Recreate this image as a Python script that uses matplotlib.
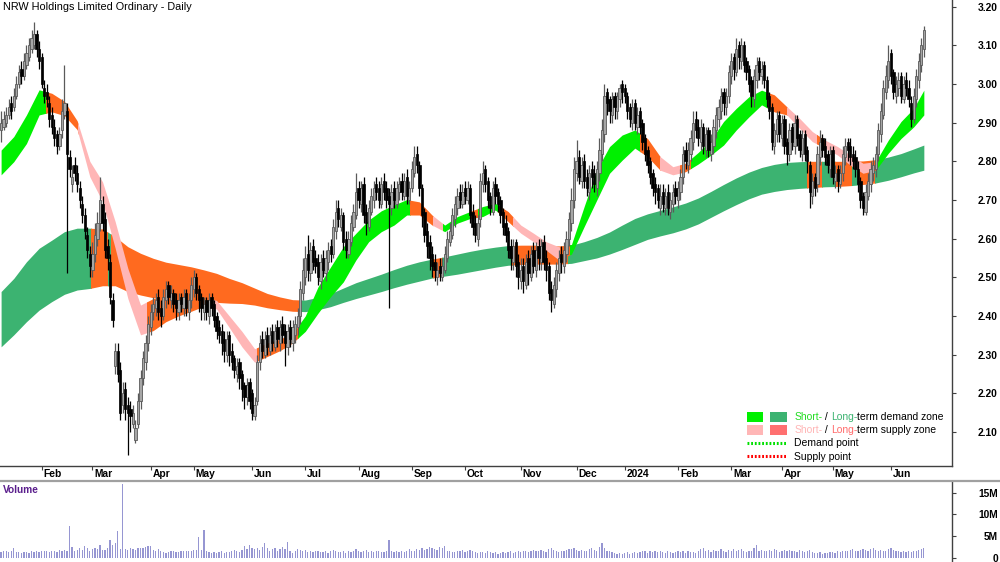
import numpy as np
import pandas as pd
import matplotlib
matplotlib.use("Agg")
import matplotlib.pyplot as plt
from matplotlib.patches import Rectangle
from matplotlib.lines import Line2D

plt.rcParams['font.family'] = ['Liberation Sans', 'DejaVu Sans']

TITLE = "NRW Holdings Limited Ordinary - Daily"

open_ = [
 2.88,2.89,2.90,2.92,2.95,2.94,2.97,3.00,3.04,3.02,
 3.05,3.07,3.09,3.10,3.13,3.09,3.07,2.99,2.98,2.95,
 2.92,2.89,2.87,2.84,2.88,2.92,2.93,2.81,2.74,2.79,
 2.77,2.73,2.69,2.66,2.61,2.56,2.52,2.56,2.60,2.64,
 2.69,2.65,2.58,2.54,2.44,2.27,2.31,2.26,2.17,2.21,
 2.17,2.16,2.12,2.08,2.12,2.18,2.24,2.28,2.33,2.37,
 2.41,2.42,2.45,2.42,2.40,2.44,2.48,2.44,2.46,2.44,
 2.41,2.45,2.42,2.46,2.41,2.44,2.47,2.50,2.47,2.45,
 2.41,2.44,2.40,2.45,2.43,2.40,2.37,2.36,2.34,2.30,
 2.35,2.31,2.29,2.25,2.28,2.25,2.22,2.19,2.23,2.20,
 2.14,2.18,2.28,2.34,2.30,2.35,2.31,2.36,2.32,2.37,
 2.33,2.38,2.36,2.32,2.37,2.33,2.35,2.37,2.40,2.46,
 2.50,2.56,2.51,2.58,2.55,2.54,2.49,2.55,2.51,2.54,
 2.58,2.56,2.62,2.68,2.63,2.66,2.60,2.56,2.59,2.63,
 2.66,2.73,2.69,2.74,2.67,2.63,2.67,2.70,2.74,2.73,
 2.69,2.75,2.73,2.71,2.68,2.73,2.69,2.72,2.75,2.71,
 2.76,2.70,2.73,2.77,2.82,2.79,2.73,2.67,2.62,2.59,
 2.56,2.54,2.50,2.53,2.50,2.52,2.55,2.59,2.61,2.65,
 2.68,2.72,2.69,2.73,2.70,2.73,2.67,2.64,2.60,2.65,
 2.74,2.78,2.75,2.71,2.67,2.74,2.72,2.70,2.67,2.64,
 2.62,2.58,2.54,2.59,2.54,2.49,2.53,2.48,2.55,2.50,
 2.57,2.52,2.58,2.54,2.59,2.55,2.53,2.47,2.43,2.47,
 2.51,2.56,2.53,2.56,2.60,2.64,2.70,2.77,2.81,2.75,
 2.80,2.76,2.72,2.78,2.77,2.73,2.77,2.82,2.87,2.98,
 2.96,2.92,2.97,2.93,2.96,3.00,2.99,2.97,2.94,2.90,
 2.95,2.89,2.93,2.90,2.86,2.83,2.80,2.77,2.74,2.73,
 2.68,2.72,2.68,2.72,2.67,2.69,2.73,2.70,2.72,2.76,
 2.83,2.79,2.82,2.85,2.91,2.89,2.85,2.89,2.83,2.88,
 2.82,2.84,2.88,2.91,2.93,2.98,2.94,2.97,3.02,3.07,
 3.03,3.10,3.06,3.10,3.06,3.04,3.01,2.96,3.01,3.06,
 3.02,3.05,3.01,2.97,2.94,2.84,2.87,2.92,2.86,2.91,
 2.85,2.82,2.89,2.84,2.91,2.87,2.82,2.87,2.83,2.79,
 2.71,2.76,2.74,2.81,2.86,2.84,2.82,2.78,2.83,2.75,
 2.78,2.74,2.77,2.81,2.85,2.84,2.82,2.81,2.78,2.75,
 2.71,2.67,2.71,2.74,2.77,2.78,2.82,2.87,2.92,2.98,
 3.01,3.08,3.03,2.97,2.99,3.02,2.96,3.01,2.99,2.95,
 2.91,2.96,3.01,3.05,3.09]

high = [
 2.93,2.93,2.94,2.96,2.97,2.99,3.02,3.05,3.06,3.08,
 3.10,3.12,3.14,3.16,3.14,3.11,3.08,3.01,3.00,2.97,
 2.94,2.91,2.88,2.89,2.96,3.05,2.95,2.83,2.79,2.81,
 2.79,2.75,2.71,2.68,2.63,2.58,2.59,2.64,2.67,2.76,
 2.71,2.67,2.60,2.56,2.46,2.33,2.33,2.28,2.23,2.23,
 2.19,2.18,2.17,2.13,2.20,2.26,2.31,2.35,2.40,2.43,
 2.45,2.46,2.47,2.44,2.47,2.49,2.49,2.48,2.47,2.46,
 2.46,2.46,2.47,2.47,2.46,2.50,2.52,2.51,2.48,2.46,
 2.45,2.45,2.46,2.46,2.44,2.41,2.39,2.38,2.36,2.36,
 2.36,2.33,2.30,2.29,2.29,2.26,2.23,2.24,2.24,2.21,
 2.19,2.30,2.35,2.36,2.36,2.37,2.37,2.38,2.38,2.39,
 2.39,2.40,2.38,2.38,2.39,2.39,2.40,2.42,2.49,2.55,
 2.58,2.61,2.59,2.60,2.57,2.56,2.56,2.57,2.57,2.59,
 2.60,2.65,2.70,2.70,2.68,2.67,2.62,2.62,2.66,2.69,
 2.77,2.75,2.75,2.76,2.69,2.70,2.73,2.75,2.76,2.75,
 2.76,2.77,2.75,2.73,2.74,2.75,2.75,2.76,2.77,2.77,
 2.78,2.75,2.80,2.84,2.84,2.80,2.74,2.68,2.64,2.61,
 2.58,2.56,2.54,2.55,2.55,2.58,2.62,2.64,2.68,2.71,
 2.73,2.74,2.74,2.75,2.75,2.74,2.69,2.66,2.66,2.77,
 2.80,2.79,2.76,2.72,2.75,2.76,2.73,2.71,2.68,2.66,
 2.63,2.60,2.60,2.60,2.56,2.55,2.55,2.56,2.57,2.58,
 2.59,2.59,2.60,2.60,2.61,2.57,2.54,2.49,2.50,2.54,
 2.57,2.58,2.59,2.62,2.67,2.73,2.81,2.855,2.83,2.81,
 2.82,2.78,2.79,2.80,2.79,2.80,2.86,2.91,3.00,2.99,
 2.97,2.98,2.98,2.98,3.00,3.01,3.00,2.98,2.95,2.96,
 2.96,2.94,2.94,2.91,2.87,2.84,2.81,2.78,2.76,2.74,
 2.74,2.74,2.73,2.74,2.72,2.74,2.75,2.75,2.78,2.84,
 2.85,2.85,2.88,2.93,2.93,2.91,2.91,2.90,2.89,2.89,
 2.87,2.91,2.94,2.96,2.99,2.99,2.99,3.05,3.08,3.08,
 3.12,3.11,3.12,3.11,3.07,3.05,3.02,3.04,3.07,3.07,
 3.06,3.06,3.02,2.98,2.95,2.90,2.93,2.93,2.92,2.92,
 2.86,2.90,2.90,2.92,2.92,2.88,2.88,2.88,2.84,2.80,
 2.77,2.77,2.84,2.88,2.87,2.86,2.83,2.84,2.84,2.79,
 2.79,2.79,2.84,2.86,2.86,2.86,2.84,2.83,2.80,2.76,
 2.72,2.74,2.77,2.80,2.81,2.84,2.90,2.95,3.01,3.05,
 3.10,3.09,3.04,3.02,3.03,3.03,3.02,3.03,3.01,2.97,
 2.99,3.04,3.08,3.12,3.15]

low = [
 2.85,2.88,2.89,2.91,2.91,2.93,2.96,2.99,3.00,3.01,
 3.04,3.06,3.08,3.09,3.07,3.04,2.99,2.95,2.94,2.89,
 2.87,2.84,2.82,2.83,2.86,2.91,2.51,2.76,2.72,2.75,
 2.72,2.68,2.64,2.60,2.55,2.50,2.50,2.54,2.58,2.62,
 2.62,2.55,2.52,2.43,2.37,2.25,2.23,2.13,2.15,2.13,
 2.04,2.10,2.11,2.07,2.11,2.16,2.22,2.26,2.31,2.35,
 2.39,2.40,2.39,2.37,2.39,2.42,2.43,2.42,2.41,2.39,
 2.39,2.41,2.40,2.40,2.39,2.42,2.45,2.44,2.41,2.39,
 2.39,2.39,2.38,2.40,2.37,2.34,2.33,2.30,2.28,2.28,
 2.27,2.26,2.24,2.23,2.21,2.18,2.16,2.17,2.16,2.13,
 2.13,2.17,2.26,2.29,2.29,2.30,2.30,2.31,2.31,2.32,
 2.31,2.33,2.27,2.30,2.32,2.31,2.33,2.35,2.38,2.44,
 2.48,2.49,2.49,2.52,2.51,2.48,2.47,2.50,2.49,2.52,
 2.54,2.55,2.60,2.63,2.62,2.57,2.55,2.55,2.58,2.62,
 2.65,2.68,2.67,2.64,2.61,2.62,2.66,2.68,2.70,2.68,
 2.68,2.70,2.68,2.42,2.66,2.68,2.68,2.70,2.70,2.70,
 2.69,2.69,2.72,2.76,2.77,2.71,2.63,2.59,2.55,2.52,
 2.50,2.49,2.48,2.49,2.49,2.51,2.54,2.58,2.60,2.63,
 2.66,2.68,2.68,2.69,2.69,2.64,2.61,2.59,2.58,2.63,
 2.72,2.72,2.68,2.66,2.66,2.69,2.67,2.64,2.61,2.59,
 2.55,2.52,2.52,2.50,2.47,2.47,2.46,2.47,2.48,2.49,
 2.51,2.50,2.52,2.52,2.52,2.49,2.44,2.41,2.42,2.45,
 2.49,2.51,2.51,2.54,2.58,2.62,2.68,2.75,2.74,2.73,
 2.73,2.71,2.70,2.73,2.72,2.71,2.75,2.80,2.85,2.92,
 2.90,2.90,2.91,2.91,2.94,2.95,2.95,2.91,2.89,2.88,
 2.88,2.87,2.87,2.83,2.80,2.77,2.74,2.71,2.69,2.68,
 2.66,2.67,2.66,2.66,2.65,2.67,2.69,2.68,2.70,2.74,
 2.78,2.77,2.80,2.83,2.86,2.84,2.83,2.82,2.81,2.81,
 2.80,2.82,2.86,2.89,2.91,2.92,2.92,2.95,3.00,3.01,
 3.02,3.04,3.04,3.03,3.01,2.98,2.94,2.94,2.99,3.01,
 3.00,2.99,2.94,2.91,2.83,2.82,2.85,2.85,2.84,2.82,
 2.79,2.80,2.83,2.82,2.84,2.81,2.80,2.80,2.77,2.68,
 2.69,2.71,2.72,2.79,2.81,2.79,2.77,2.76,2.74,2.73,
 2.72,2.73,2.75,2.79,2.80,2.79,2.78,2.76,2.72,2.68,
 2.66,2.66,2.70,2.72,2.75,2.76,2.80,2.85,2.91,2.96,
 2.99,3.00,2.96,2.95,2.97,2.95,2.95,2.97,2.94,2.89,
 2.90,2.94,2.99,3.03,3.07]

close = [
 2.90,2.91,2.92,2.94,2.93,2.97,3.00,3.03,3.02,3.06,
 3.08,3.10,3.12,3.13,3.09,3.06,3.00,2.97,2.96,2.91,
 2.89,2.86,2.84,2.87,2.93,2.95,2.82,2.78,2.76,2.77,
 2.74,2.70,2.66,2.62,2.57,2.53,2.56,2.61,2.64,2.70,
 2.64,2.57,2.55,2.45,2.39,2.31,2.25,2.15,2.20,2.16,
 2.15,2.14,2.15,2.11,2.18,2.24,2.29,2.33,2.38,2.41,
 2.43,2.44,2.41,2.40,2.45,2.47,2.45,2.46,2.43,2.42,
 2.44,2.43,2.45,2.42,2.44,2.48,2.50,2.46,2.44,2.42,
 2.43,2.41,2.44,2.42,2.39,2.36,2.35,2.33,2.31,2.34,
 2.30,2.28,2.26,2.27,2.24,2.21,2.19,2.22,2.18,2.15,
 2.17,2.28,2.33,2.31,2.34,2.32,2.35,2.33,2.36,2.34,
 2.37,2.35,2.33,2.36,2.34,2.37,2.38,2.40,2.47,2.52,
 2.55,2.52,2.57,2.54,2.53,2.50,2.54,2.52,2.55,2.57,
 2.56,2.63,2.67,2.65,2.66,2.59,2.57,2.60,2.64,2.67,
 2.72,2.70,2.73,2.66,2.64,2.68,2.71,2.73,2.72,2.70,
 2.74,2.72,2.70,2.69,2.72,2.70,2.73,2.74,2.72,2.75,
 2.71,2.73,2.78,2.81,2.79,2.73,2.66,2.61,2.58,2.55,
 2.53,2.52,2.52,2.51,2.53,2.56,2.60,2.62,2.66,2.69,
 2.71,2.70,2.72,2.71,2.73,2.66,2.63,2.61,2.64,2.75,
 2.77,2.74,2.70,2.68,2.73,2.71,2.69,2.66,2.63,2.61,
 2.57,2.55,2.58,2.53,2.50,2.52,2.49,2.54,2.51,2.56,
 2.53,2.57,2.55,2.58,2.54,2.52,2.46,2.44,2.48,2.52,
 2.55,2.54,2.57,2.60,2.65,2.70,2.78,2.80,2.76,2.79,
 2.75,2.73,2.77,2.76,2.74,2.78,2.83,2.88,2.97,2.95,
 2.93,2.96,2.94,2.97,2.99,2.98,2.97,2.93,2.91,2.94,
 2.90,2.92,2.89,2.85,2.82,2.79,2.76,2.73,2.72,2.70,
 2.71,2.69,2.71,2.68,2.70,2.72,2.71,2.73,2.76,2.82,
 2.80,2.83,2.86,2.90,2.88,2.86,2.89,2.84,2.87,2.83,
 2.85,2.89,2.92,2.94,2.97,2.95,2.97,3.03,3.06,3.04,
 3.09,3.07,3.10,3.05,3.03,3.00,2.97,3.02,3.05,3.03,
 3.04,3.01,2.96,2.93,2.85,2.88,2.91,2.87,2.90,2.84,
 2.82,2.88,2.85,2.90,2.86,2.83,2.86,2.82,2.80,2.72,
 2.75,2.73,2.82,2.85,2.83,2.81,2.79,2.82,2.76,2.77,
 2.75,2.77,2.82,2.84,2.83,2.81,2.80,2.78,2.74,2.70,
 2.68,2.72,2.75,2.78,2.79,2.82,2.88,2.93,2.99,3.02,
 3.06,3.02,2.98,3.00,3.01,2.97,3.00,2.99,2.96,2.91,
 2.97,3.02,3.06,3.10,3.14]

volume_m = [
 1.2,1.4,1.6,1.3,1.5,2.1,1.2,1.3,1.1,1.2,
 1.3,1.1,1.4,1.2,1.5,1.3,1.6,1.4,1.5,1.3,
 1.6,1.4,1.3,1.7,1.5,1.8,1.5,7.3,2.4,1.6,
 1.8,2.2,1.7,2.6,2.3,1.5,1.9,2.2,2.0,2.9,
 1.8,1.7,2.2,4.1,2.9,3.4,6.2,2.0,16.9,1.9,
 1.7,2.3,1.9,1.8,2.2,2.1,2.3,2.4,2.6,2.7,
 1.8,1.6,1.9,1.4,1.3,1.1,1.2,1.4,1.5,1.2,
 1.3,1.6,1.5,1.4,1.6,1.5,1.7,1.8,4.8,1.7,
 6.4,1.6,1.2,1.1,1.3,1.0,1.2,1.4,1.1,1.3,
 1.2,1.5,1.7,1.6,1.3,1.8,2.6,2.0,2.9,2.2,
 1.9,2.1,1.8,2.4,3.3,2.2,1.6,2.0,2.3,1.5,
 1.9,2.4,2.0,3.6,1.4,1.0,1.5,1.9,1.8,1.6,
 1.7,1.3,1.5,1.2,1.6,1.4,1.3,1.2,1.5,1.1,
 1.6,1.8,1.4,1.3,1.2,1.4,1.1,1.5,1.3,1.6,
 1.9,1.4,1.2,1.5,1.7,1.3,1.6,1.2,1.4,1.5,
 1.3,1.2,1.6,4.1,1.5,1.3,1.4,1.2,1.5,1.3,
 1.4,1.9,1.6,1.5,2.0,1.8,2.2,1.7,1.9,2.4,
 2.1,2.0,1.8,2.5,2.3,2.6,1.6,1.4,1.2,1.3,
 1.4,1.6,1.8,1.3,1.5,1.7,1.4,1.2,1.1,1.3,
 1.2,1.1,1.4,1.3,1.0,1.2,0.9,1.1,1.3,1.0,
 1.2,1.4,1.1,1.3,1.5,1.2,1.6,1.4,1.3,1.5,
 1.7,1.4,1.6,1.8,1.5,1.3,1.9,2.1,1.8,1.5,
 1.3,1.6,1.4,1.8,2.0,1.9,2.3,1.7,1.5,1.8,
 1.4,1.6,1.9,2.2,1.7,1.5,2.4,3.3,2.1,1.6,
 1.4,1.2,1.0,0.9,1.1,0.8,1.0,1.2,0.9,1.1,
 1.3,1.0,1.2,1.4,1.5,1.1,1.6,1.3,1.4,1.2,
 1.5,1.3,1.1,1.4,1.2,1.0,1.3,1.5,1.2,1.4,
 1.1,1.6,1.3,1.2,1.0,1.4,1.9,2.1,1.5,1.8,
 1.3,1.7,1.6,1.4,1.9,1.5,1.3,1.8,1.6,2.0,
 1.4,1.7,1.9,1.5,1.3,1.6,1.4,2.1,2.9,1.5,
 1.7,1.4,1.6,1.8,1.5,1.9,1.7,1.3,1.6,1.8,
 1.5,1.7,1.4,1.6,1.3,1.8,1.5,1.2,1.4,1.7,
 1.3,1.1,1.0,1.2,0.9,1.1,1.0,1.3,1.2,1.1,
 1.4,1.3,1.5,1.6,1.4,1.7,1.9,1.6,1.5,1.8,
 2.0,1.7,1.6,1.9,2.1,1.8,1.5,1.7,1.6,1.4,
 1.9,2.2,1.8,1.6,1.5,1.3,1.4,1.2,1.5,1.3,
 1.6,1.4,1.7,2.0,2.3]

# zone bands, sampled every 5 sessions (plus the last session)
short_upper = [2.829,2.864,2.920,2.985,2.976,2.955,2.905,2.800,2.747,2.644,
               2.523,2.428,2.445,2.450,2.450,2.450,2.450,2.440,2.400,2.360,
               2.315,2.330,2.340,2.355,2.400,2.475,2.527,2.579,2.614,2.648,
               2.672,2.687,2.701,2.695,2.661,2.635,2.657,2.670,2.683,2.691,
               2.670,2.635,2.614,2.592,2.579,2.585,2.683,2.778,2.838,2.868,
               2.881,2.859,2.812,2.786,2.795,2.823,2.855,2.903,2.937,2.967,
               2.984,2.972,2.941,2.911,2.877,2.855,2.838,2.816,2.795,2.799,
               2.855,2.903,2.937,2.984]
short_lower = [2.765,2.799,2.846,2.920,2.928,2.918,2.882,2.760,2.696,2.575,
               2.445,2.351,2.362,2.385,2.400,2.412,2.425,2.418,2.370,2.320,
               2.280,2.295,2.310,2.330,2.360,2.407,2.450,2.488,2.545,2.592,
               2.618,2.635,2.661,2.661,2.635,2.618,2.640,2.652,2.657,2.674,
               2.644,2.614,2.592,2.570,2.545,2.560,2.631,2.700,2.769,2.803,
               2.834,2.812,2.777,2.765,2.773,2.793,2.816,2.842,2.881,2.915,
               2.946,2.928,2.920,2.885,2.851,2.834,2.816,2.790,2.769,2.777,
               2.821,2.859,2.889,2.920]
long_upper = [2.463,2.497,2.540,2.575,2.596,2.618,2.627,2.627,2.625,2.605,
              2.579,2.562,2.549,2.539,2.533,2.527,2.519,2.510,2.497,2.486,
              2.472,2.458,2.449,2.442,2.441,2.448,2.458,2.472,2.486,2.497,
              2.508,2.520,2.531,2.540,2.547,2.553,2.560,2.567,2.573,2.578,
              2.582,2.583,2.583,2.582,2.581,2.583,2.592,2.603,2.617,2.635,
              2.652,2.664,2.673,2.682,2.692,2.705,2.722,2.740,2.757,2.772,
              2.784,2.792,2.797,2.799,2.800,2.800,2.800,2.800,2.801,2.804,
              2.811,2.820,2.832,2.842]
long_lower = [2.320,2.351,2.385,2.415,2.437,2.456,2.467,2.471,2.478,2.478,
              2.463,2.454,2.447,2.444,2.441,2.439,2.437,2.435,2.433,2.432,
              2.428,2.421,2.416,2.412,2.411,2.416,2.424,2.435,2.445,2.454,
              2.463,2.473,2.482,2.490,2.498,2.503,2.508,2.514,2.520,2.526,
              2.531,2.533,2.534,2.534,2.534,2.536,2.543,2.550,2.560,2.572,
              2.585,2.598,2.607,2.615,2.625,2.638,2.655,2.672,2.688,2.703,
              2.715,2.722,2.727,2.730,2.732,2.734,2.735,2.737,2.740,2.744,
              2.751,2.760,2.770,2.777]

# zone state spans, in session numbers
short_zones = [(-1, 17.9, 'sd'), (17.9, 30.3, 'or'), (30.3, 57.5, 'ss'), (57.5, 83.6, 'or'),
               (83.6, 101, 'ss'), (101, 117.1, 'or'), (117.1, 161.3, 'sd'), (161.3, 170.4, 'or'),
               (170.4, 174.3, 'ss'), (174.3, 185, 'sd'), (185, 188.2, 'or'), (188.2, 196, 'sd'),
               (196, 202, 'or'), (202, 220.5, 'ss'), (220.5, 224.4, 'or'), (224.4, 252, 'sd'),
               (252, 260, 'or'), (260, 268, 'ss'), (268, 272, 'or'), (272, 302.5, 'sd'),
               (302.5, 310, 'or'), (310, 322, 'ss'), (322, 325, 'or'), (325, 343.6, 'ss'),
               (343.6, 345.5, 'or'), (345.5, 366, 'sd')]
long_zones = [(-1, 35.5, 'ld'), (35.5, 42, 'or'), (42, 43.5, 'ld'), (43.5, 118, 'or'),
              (118, 170.4, 'ld'), (170.4, 174, 'or'), (174, 201.5, 'ld'), (201.5, 223.6, 'or'),
              (223.6, 317.8, 'ld'), (317.8, 323.7, 'or'), (323.7, 329, 'ld'), (329, 335.5, 'or'),
              (335.5, 338.2, 'ld'), (338.2, 344.7, 'or'), (344.7, 366, 'ld')]

month_labels = ["Feb", "Mar", "Apr", "May", "Jun", "Jul", "Aug", "Sep", "Oct", "Nov", "Dec",
                "2024", "Feb", "Mar", "Apr", "May", "Jun"]
price_ticks = [2.10, 2.20, 2.30, 2.40, 2.50, 2.60, 2.70, 2.80, 2.90, 3.00, 3.10, 3.20]
volume_ticks = [0, 5, 10, 15]
volume_tick_labels = ["0", "5M", "10M", "15M"]

# ---------------------------------------------------------------------------
COL = {'sd': '#00F000', 'ld': '#3CB371', 'ss': '#FFB6B6', 'or': '#FF6A1F'}
LEG_LS = '#FF7070'

o = np.array(open_); h = np.array(high); l = np.array(low); c = np.array(close)
v = np.array(volume_m)
N = len(c)
x = np.arange(N)

# trading calendar (ASX holidays, two sessions missing in Aug 2023)
hol = pd.to_datetime(["2023-01-26", "2023-04-07", "2023-04-10", "2023-04-25", "2023-06-12",
                      "2023-08-24", "2023-08-25", "2023-12-25", "2023-12-26", "2024-01-01",
                      "2024-01-26", "2024-03-29", "2024-04-01", "2024-04-25", "2024-06-10"])
days = pd.bdate_range("2023-01-09", "2024-07-31")
days = days[~days.isin(hol)][:N]
month_pos = [i for i in range(1, N) if days[i].month != days[i - 1].month]

band_x = list(range(0, N - 4, 5)) + [N - 1]

W, H = 1000, 562
fig = plt.figure(figsize=(W / 100, H / 100), dpi=100)
fig.patch.set_facecolor('white')

def fx(px):
    return px / W

def fy(py):
    return 1 - py / H

ax = fig.add_axes([0, fy(466), fx(952), 466 / H])
axv = fig.add_axes([0, fy(562), fx(952), (562 - 482) / H])

step = 2.535
x_left = -1.1 / step
x_right = (952 - 1.1) / step
ax.set_xlim(x_left, x_right)
axv.set_xlim(x_left, x_right)
ax.set_ylim(3.20 - (466 - 6.7) / 386.5, 3.20 + 6.7 / 386.5)
vol_zero_px = 557.5
axv.set_ylim(-(562 - vol_zero_px) / 4.333, (vol_zero_px - 482) / 4.333)

def draw_band(lo, hi, zones, z):
    for a, b, key in zones:
        poly = ax.fill_between(band_x, lo, hi, color=COL[key], lw=0, zorder=z)
        clip = Rectangle((a, 0), b - a, 10, transform=ax.transData)
        poly.set_clip_path(clip)

draw_band(long_lower, long_upper, long_zones, 1)
draw_band(short_lower, short_upper, short_zones, 2)

up = c >= o
ax.vlines(x[up], l[up], h[up], color='#5A5A5A', lw=0.9, zorder=3)
ax.vlines(x[~up], l[~up], h[~up], color='#000000', lw=0.9, zorder=3)
body_lo = np.minimum(o, c)
body_h = np.maximum(np.abs(c - o), 0.004)
ax.bar(x[up], body_h[up], bottom=body_lo[up], width=0.9, color='#A6A6A6',
       edgecolor='#5A5A5A', lw=0.6, zorder=4)
ax.bar(x[~up], body_h[~up], bottom=body_lo[~up], width=0.9, color='#000000',
       edgecolor='#000000', lw=0.5, zorder=4)

# axes styling
for a_ in (ax, axv):
    for s in ('top', 'left'):
        a_.spines[s].set_visible(False)
    a_.spines['right'].set_color('#404040')
    a_.spines['right'].set_linewidth(1.0)
    a_.yaxis.tick_right()
    a_.tick_params(axis='y', direction='out', length=3, width=0.8, color='#404040',
                   pad=30, labelsize=7.4)
ax.spines['bottom'].set_color('#404040')
ax.spines['bottom'].set_linewidth(1.0)
axv.spines['bottom'].set_visible(False)

ax.set_yticks(price_ticks)
ax.set_yticklabels([f"{p:.2f}" for p in price_ticks])
axv.set_yticks(volume_ticks)
axv.set_yticklabels(volume_tick_labels)
for a_ in (ax, axv):
    for lab in a_.get_yticklabels():
        lab.set_ha('right')
        lab.set_fontweight('bold')

ax.set_xticks(month_pos)
ax.set_xticklabels([])
ax.tick_params(axis='x', direction='out', length=3, width=0.8, color='#404040')
for pos, lab in zip(month_pos, month_labels):
    ax.annotate(lab, xy=(pos, 0), xycoords=('data', 'axes fraction'), xytext=(2, -8),
                textcoords='offset pixels', ha='left', va='center', fontsize=7.4,
                fontweight='bold', annotation_clip=False)
axv.set_xticks([])

axv.bar(x, v, width=0.5, color='#9696D2', lw=0)
fig.text(fx(3), fy(490), 'Volume', color='#5A1E8C', fontsize=7.3, fontweight='bold',
         ha='left', va='center')

fig.add_artist(Line2D([0, 1], [fy(481), fy(481)], transform=fig.transFigure,
                      color='#A0A0A0', lw=1.6))

fig.text(fx(3), fy(7), TITLE, fontsize=7.8, ha='left', va='center')

# legend
def box(x0, y0, w, hgt, col):
    fig.add_artist(Rectangle((fx(x0), fy(y0 + hgt)), w / W, hgt / H,
                             transform=fig.transFigure, color=col, lw=0))

box(746.7, 411.7, 16.6, 10, COL['sd'])
box(770.0, 411.7, 17.3, 10, COL['ld'])
box(746.7, 425.0, 16.6, 10, COL['ss'])
box(770.0, 425.0, 17.3, 10, LEG_LS)
fig.add_artist(Line2D([fx(747), fx(787)], [fy(443.3)] * 2, transform=fig.transFigure,
                      color='#00E000', lw=2.2, linestyle=(0, (0.6, 0.6))))
fig.add_artist(Line2D([fx(747), fx(787)], [fy(456.3)] * 2, transform=fig.transFigure,
                      color='#FF0000', lw=2.2, linestyle=(0, (0.6, 0.6))))

def rich(xp, yp, parts):
    t = fig.text(fx(xp), fy(yp), parts[0][0], color=parts[0][1], fontsize=7.5,
                 ha='left', va='center')
    prev = t
    for txt, col in parts[1:]:
        prev = ax.annotate(txt, xy=(1, 0.5), xycoords=prev, xytext=(0, 0),
                           textcoords='offset points', ha='left', va='center',
                           color=col, fontsize=7.5, annotation_clip=False)

rich(794.3, 416.7, [("Short-", '#22DD22'), (" / ", 'black'), ("Long-", '#3CB371'),
                    ("term demand zone", 'black')])
rich(794.3, 430.0, [("Short-", '#FFB6B6'), (" / ", 'black'), ("Long-", '#FF6B6B'),
                    ("term supply zone", 'black')])
fig.text(fx(794.3), fy(443.3), "Demand point", fontsize=7.5, ha='left', va='center')
fig.text(fx(794.3), fy(456.7), "Supply point", fontsize=7.5, ha='left', va='center')

fig.savefig("out.png", dpi=100, facecolor='white')
